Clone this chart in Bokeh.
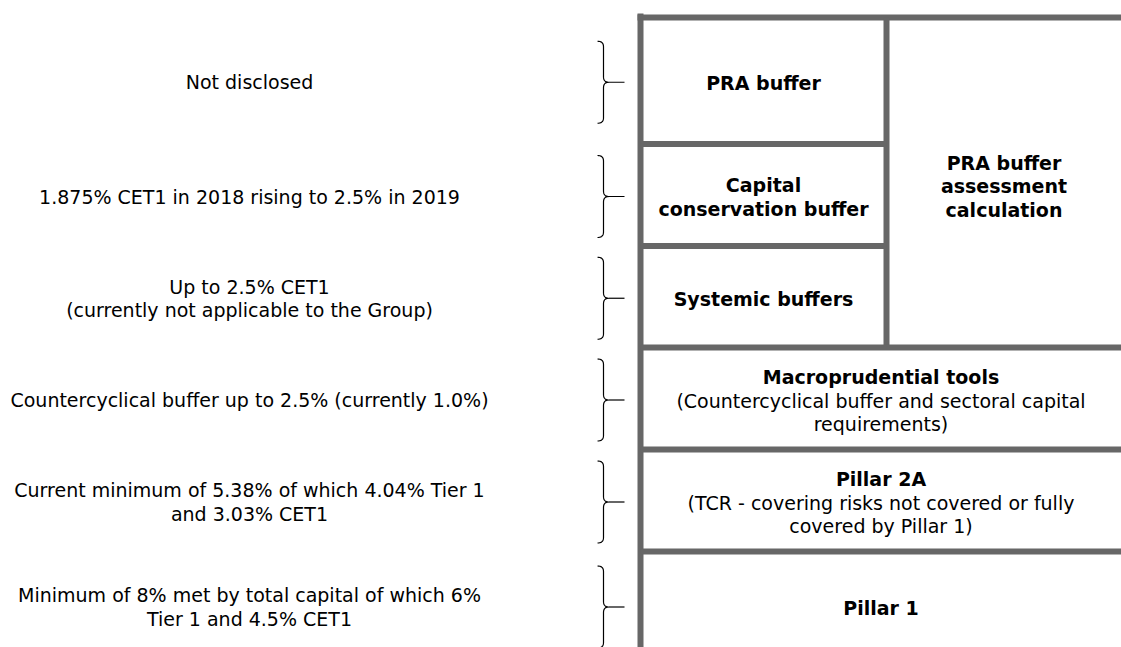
import numpy as np
from bokeh.plotting import figure
from bokeh.models import Range1d
from bokeh.core.properties import value
from bokeh.embed import file_html
from bokeh.resources import INLINE

# ---------------- data ----------------
descriptions = [
    "Not disclosed",
    "1.875% CET1 in 2018 rising to 2.5% in 2019",
    "Up to 2.5% CET1\n(currently not applicable to the Group)",
    "Countercyclical buffer up to 2.5% (currently 1.0%)",
    "Current minimum of 5.38% of which 4.04% Tier 1\nand 3.03% CET1",
    "Minimum of 8% met by total capital of which 6%\nTier 1 and 4.5% CET1",
]
box_titles = [
    "PRA buffer",
    "Capital\nconservation buffer",
    "Systemic buffers",
    "Macroprudential tools",
    "Pillar 2A",
    "Pillar 1",
]
box_subtitles = [
    "",
    "",
    "",
    "(Countercyclical buffer and sectoral capital\nrequirements)",
    "(TCR - covering risks not covered or fully\ncovered by Pillar 1)",
    "",
]
side_title = "PRA buffer\nassessment\ncalculation"

# ---------------- layout (reference pixel space) ----------------
W, H = 1121, 647
FONT = "DejaVu Sans"
FS = 19
LH = 23.5            # desired pixel distance between lines
LH_FACTOR = 1.063    # bokeh multiplies font ascent+descent by this
GRID = "#676767"
row_edges = [17, 143.5, 245.5, 347, 449, 551, 659]
x_left, x_mid, x_right = 640, 886, 1121
full_width_rows = [3, 4, 5]
desc_x = 249

p = figure(width=W, height=H, output_backend="svg", toolbar_location=None,
           x_range=Range1d(0, W), y_range=Range1d(H, 0),
           min_border=0, border_fill_color="white", background_fill_color="white")
p.axis.visible = False
p.grid.visible = False
p.outline_line_color = None

# grid lines of the diagram
x0s, y0s, x1s, y1s = [], [], [], []
x0s.append(x_left); y0s.append(13); x1s.append(x_left); y1s.append(660)
x0s.append(x_left - 3); y0s.append(row_edges[0]); x1s.append(x_right + 10); y1s.append(row_edges[0])
x0s.append(x_mid); y0s.append(row_edges[0]); x1s.append(x_mid); y1s.append(row_edges[3])
for i in range(1, 6):
    xe = x_right + 10 if i >= 3 else x_mid
    x0s.append(x_left); y0s.append(row_edges[i]); x1s.append(xe); y1s.append(row_edges[i])
p.segment(x0=x0s, y0=y0s, x1=x1s, y1=y1s, line_color=GRID, line_width=6)

row_centers = [(row_edges[i] + row_edges[i + 1]) / 2 for i in range(6)]

# braces
def brace_path(y0, y1, xl=597, xv=603, xt=624, r=5.5):
    ym = (y0 + y1) / 2
    def quad(pa, pc, pb, n=10):
        t = np.linspace(0, 1, n)
        return ((1 - t) ** 2 * pa[0] + 2 * (1 - t) * t * pc[0] + t ** 2 * pb[0],
                (1 - t) ** 2 * pa[1] + 2 * (1 - t) * t * pc[1] + t ** 2 * pb[1])
    xs, ys = [], []
    for seg in [quad((xl, y0), (xv, y0), (xv, y0 + r)),
                quad((xv, ym - r), (xv, ym), (xv + r, ym)),
                quad((xv + r, ym), (xv, ym), (xv, ym + r)),
                quad((xv, y1 - r), (xv, y1), (xl, y1))]:
        xs.extend(seg[0]); ys.extend(seg[1])
    return xs, ys, [xv + r, xt], [ym, ym]

bx, by = [], []
for c in row_centers:
    yc = c + 1.5
    xs, ys, tx, ty = brace_path(yc - 41, yc + 41)
    bx += [xs, tx]; by += [ys, ty]
p.multi_line(xs=bx, ys=by, line_color="black", line_width=1.2)

# descriptions
p.text(x=[desc_x] * 6, y=[c + 1.5 for c in row_centers], text=descriptions,
       text_font=value(FONT), text_font_size=f"{FS}px", text_align="center",
       text_baseline="middle", text_line_height=LH_FACTOR, text_color="black")

# box texts
tx, ty, tt, sx, sy, st = [], [], [], [], [], []
for i in range(6):
    cx = (x_left + x_right) / 2 if i in full_width_rows else (x_left + x_mid) / 2
    cy = row_centers[i] + 2
    nt = box_titles[i].count("\n") + 1
    ns = box_subtitles[i].count("\n") + 1 if box_subtitles[i] else 0
    n = nt + ns
    first = cy - (n - 1) / 2 * LH
    tx.append(cx); ty.append(first + (nt - 1) / 2 * LH); tt.append(box_titles[i])
    if ns:
        sx.append(cx); sy.append(first + nt * LH + (ns - 1) / 2 * LH); st.append(box_subtitles[i])
tx.append((x_mid + x_right) / 2); ty.append((row_edges[0] + row_edges[3]) / 2 + 4); tt.append(side_title)

p.text(x=tx, y=ty, text=tt, text_font=value(FONT), text_font_size=f"{FS}px",
       text_font_style="bold", text_align="center", text_baseline="middle",
       text_line_height=LH_FACTOR, text_color="black")
p.text(x=sx, y=sy, text=st, text_font=value(FONT), text_font_size=f"{FS}px",
       text_align="center", text_baseline="middle",
       text_line_height=LH_FACTOR, text_color="black")

open("out.html", "w").write(file_html(p, INLINE))
